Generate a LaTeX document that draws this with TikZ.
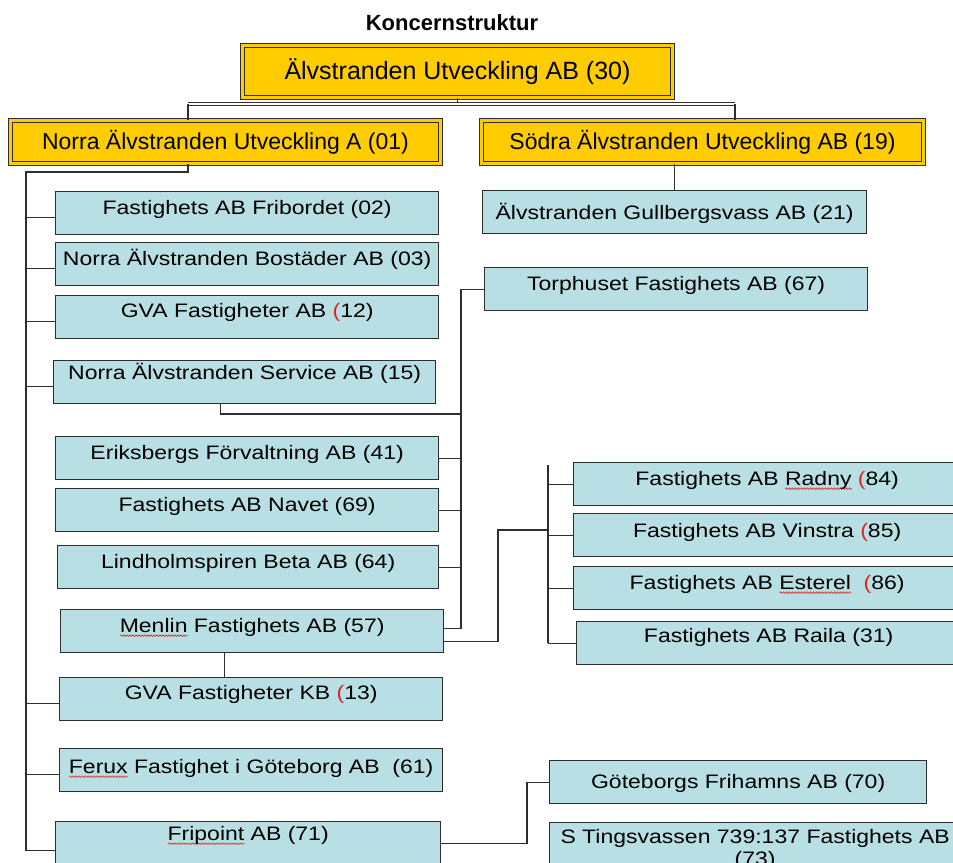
\documentclass[tikz,border=0pt]{standalone}
\usepackage{fontspec}
\setmainfont{Liberation Sans}
\newfontfamily\firmfont{Liberation Sans}[FakeStretch=1.18]
\usetikzlibrary{decorations.pathmorphing}
\definecolor{boxyellow}{HTML}{FFCC00}
\definecolor{boxblue}{HTML}{B8DFE3}
\definecolor{linegray}{HTML}{2E2E2E}
\definecolor{spellred}{HTML}{E02424}
\newlength\squiglen
\newcommand{\squig}[1]{\settowidth{\squiglen}{#1}\rlap{\tikz[baseline=0pt]\draw[spellred,line width=0.6pt,decorate,decoration={snake,amplitude=0.8pt,segment length=3pt}] (0pt,-3pt) -- (\squiglen,-3pt);}#1}
\newcommand{\redpar}{\textcolor{spellred}{(}}

\begin{document}
\begin{tikzpicture}[x=1pt,y=-1pt,
  link/.style={draw=linegray,line width=1.3pt},
  head/.style={draw=linegray,line width=1pt,double=boxyellow,double distance=2.2pt,fill=boxyellow,inner sep=0pt,anchor=north west,font=\fontsize{23}{26}\selectfont},
  firm/.style={draw=linegray,line width=1.3pt,fill=boxblue,inner sep=0pt,anchor=north west,align=center,font=\firmfont\fontsize{19.5}{21.5}\selectfont}]
  \fill[white] (0,0) rectangle (953,862);
  \useasboundingbox (0,0) rectangle (953,862);
  \clip (0,0) rectangle (953,862);
  \node[font=\bfseries\fontsize{22}{26}\selectfont] (title) at (452,23) {Koncernstruktur};
  \node[head,minimum width=430pt,minimum height=52pt,font=\fontsize{25}{28}\selectfont] (auab) at (242,45) {Älvstranden Utveckling AB (30)};
  \node[head,minimum width=430pt,minimum height=43pt] (nauab) at (10,120) {Norra Älvstranden Utveckling A (01)};
  \node[head,minimum width=442pt,minimum height=43pt] (sauab) at (481,120) {Södra Älvstranden Utveckling AB (19)};
  % bolagen
  \foreach \n/\xa/\ya/\w/\th/\txt in {
    fribordet/55/191/383/23/{Fastighets AB Fribordet (02)},
    bostader/55/242/383/23/{Norra Älvstranden Bostäder AB (03)},
    gva12/55/295/383/22/{GVA Fastigheter AB \redpar12)},
    service/53/360/382/19/{Norra Älvstranden Service AB (15)},
    eriksberg/55/436/383/23/{Eriksbergs Förvaltning AB (41)},
    navet/55/488/383/23/{Fastighets AB Navet (69)},
    lindholm/57/545/381/23/{Lindholmspiren Beta AB (64)},
    menlin/60/609/383/23/{\squig{Menlin} Fastighets AB (57)},
    gvakb/59/677/383/22/{GVA Fastigheter KB \redpar13)},
    ferux/59/748/383/25/{\squig{Ferux} Fastighet i Göteborg AB\ \ (61)},
    fripoint/55/821/385/19/{\squig{Fripoint} AB (71)},
    gullberg/482/190/384/29/{Älvstranden Gullbergsvass AB (21)},
    torphuset/484/267/383/23/{Torphuset Fastighets AB (67)},
    radny/573/462/387/23/{Fastighets AB \squig{Radny} \redpar84)},
    vinstra/573/513/387/24/{Fastighets AB Vinstra \redpar85)},
    esterel/573/566/387/23/{Fastighets AB \squig{Esterel}\ \ \redpar86)},
    raila/576/621/384/21/{Fastighets AB Raila (31)},
    frihamn/549/760/377/28/{Göteborgs Frihamns AB (70)},
    tingsvass/549/822/411/42.5/{S Tingsvassen 739:137 Fastighets AB\\(73)}}
  {\pgfmathsetmacro\td{43-\th}
   \node[firm,minimum width=\w pt,text height=\th pt,text depth=\td pt] (\n) at (\xa,\ya) {\txt};}
  % linjer
  \coordinate (busL) at (188,104);
  \coordinate (busR) at (735,104);
  \coordinate (lt) at (26,172);
  \coordinate (mt) at (461,290);
  \coordinate (rt) at (548,465);
  \draw[link] (auab.south) -- (auab.south |- busL);
  \draw[link,line width=0.9pt,double=white,double distance=1.6pt] (busL) -- (busR);
  \draw[link] (busL) -- (busL |- nauab.north);
  \draw[link] (busR) -- (busR |- sauab.north);
  \draw[link] (gullberg.north) -- (gullberg.north |- sauab.south);
  \draw[link] (nauab.south -| busL) |- (lt) |- ([yshift=-7pt]fripoint.west);
  \foreach \n in {fribordet,bostader,gva12,service,gvakb,ferux}
    \draw[link] ([yshift=-4pt]\n.west) -- ([yshift=-4pt]\n.west -| lt);
  \draw[link] (torphuset.west) -| ([yshift=3pt]menlin.east -| mt) -- ([yshift=3pt]menlin.east);
  \foreach \n in {eriksberg,navet,lindholm}
    \draw[link] (\n.east) -- (\n.east -| mt);
  \draw[link] ([xshift=-24pt]service.south) |- (mt |- 0,414);
  \draw[link] ([xshift=-28pt]menlin.south) -- ([xshift=-28pt]menlin.south |- gvakb.north);
  \draw[link] ([yshift=-10pt]menlin.east) -| (498,530) -- (rt |- 0,530);
  \draw[link] (rt) -- (rt |- raila.west);
  \foreach \n in {radny,vinstra,esterel,raila}
    \draw[link] (\n.west) -- (\n.west -| rt);
  \draw[link] (fripoint.east) -| (frihamn.west -| 527,0) -- (frihamn.west);
\end{tikzpicture}
\end{document}
